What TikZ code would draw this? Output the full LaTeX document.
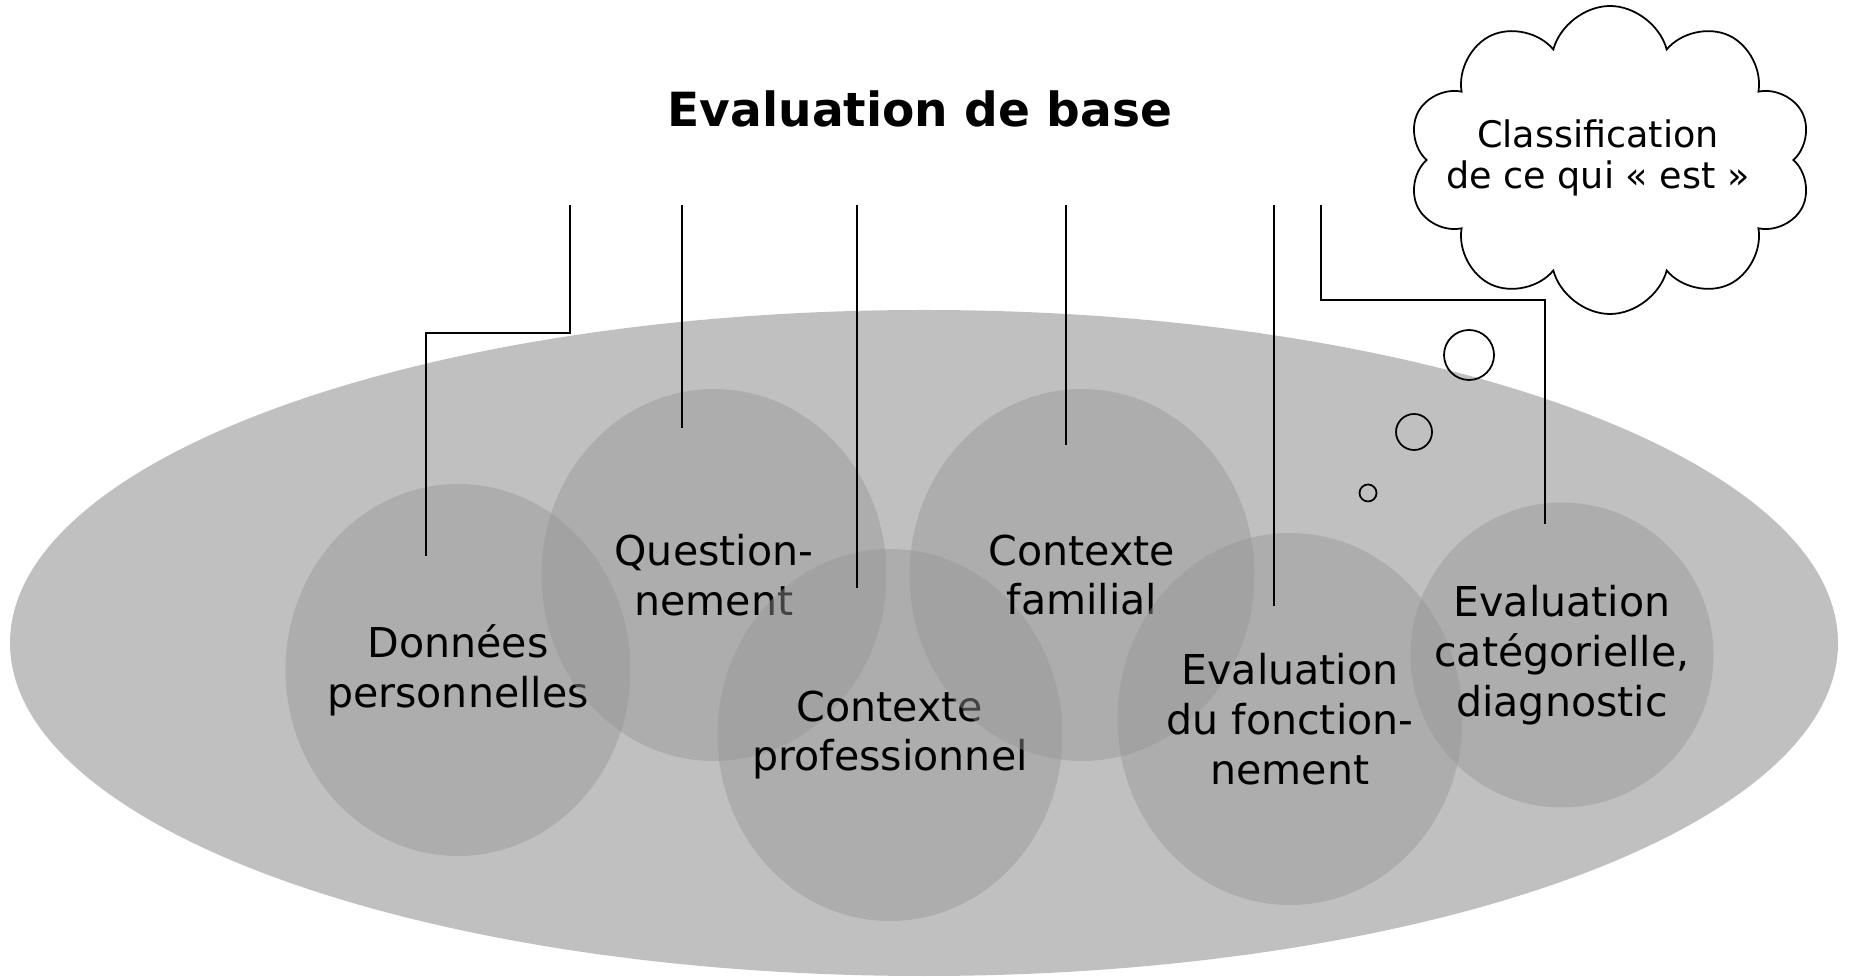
\documentclass[tikz,border=0pt]{standalone}
\usepackage{fontspec}
\setmainfont{DejaVu Sans}
\usetikzlibrary{shapes.geometric,shapes.symbols}
\definecolor{ovalgray}{RGB}{192,192,192}
\definecolor{blobgray}{RGB}{150,150,150}

\begin{document}
\begin{tikzpicture}[
    blob/.style={ellipse,fill=blobgray,fill opacity=0.45,inner sep=0pt,minimum width=3.45cm,minimum height=3.72cm},
    blobtext/.style={align=center,font=\fontsize{11.7}{14.2}\selectfont},
    bubble/.style={draw,circle,line width=0.5pt,inner sep=0pt},
    leader/.style={line width=0.5pt}]
    \useasboundingbox (0,0) rectangle (18.51,9.76);
    \fill[ovalgray] (9.24,3.33) ellipse [x radius=9.14cm,y radius=3.33cm];

    \node[blob] (donnees) at (4.58,3.06) {};
    \node[blobtext] (donnees-t) at (donnees) {Données\\personnelles};
    \node[blob] (question) at (7.14,4.01) {};
    \node[blobtext] (question-t) at (question) {Question-\\nement};
    \node[blob] (ctxpro) at (8.90,2.41) {};
    \node[blobtext] (ctxpro-t) at (ctxpro) {Contexte\\professionnel};
    \node[blob] (ctxfam) at (10.82,4.01) {};
    \node[blobtext] (ctxfam-t) at (ctxfam) {Contexte\\familial};
    \node[blob] (evalfonc) at (12.90,2.57) {};
    \node[blobtext] (evalfonc-t) at (evalfonc) {Evaluation\\du fonction-\\nement};
    \node[blob,minimum width=3.03cm,minimum height=3.05cm] (evalcat) at (15.62,3.21) {};
    \node[blobtext] (evalcat-t) at (evalcat) {Evaluation\\catégorielle,\\diagnostic};

    \node[anchor=base,font=\fontsize{13.4}{16}\selectfont\bfseries] (titre) at (9.20,8.49) {Evaluation de base};

    \node[draw,cloud,cloud puffs=10,cloud ignores aspect,line width=0.5pt,minimum width=4.04cm,minimum height=3.08cm] (nuage) at (16.10,8.16) {};
    \node[align=center,font=\fontsize{10.4}{11.8}\selectfont] (nuage-t) at (15.98,8.18) {Classification\\de ce qui « est »};
    \node[bubble,minimum size=0.50cm] (bulle1) at (14.69,6.21) {};
    \node[bubble,minimum size=0.36cm] (bulle2) at (14.14,5.44) {};
    \node[bubble,minimum size=0.17cm] (bulle3) at (13.68,4.83) {};

    % leaders from the title row down into the circles
    \coordinate (t1) at (5.70,7.71);   \coordinate (e1) at (4.26,4.20);
    \coordinate (t2) at (6.82,7.71);   \coordinate (e2) at (6.82,5.48);
    \coordinate (t3) at (8.57,7.71);   \coordinate (e3) at (8.57,3.88);
    \coordinate (t4) at (10.66,7.71);  \coordinate (e4) at (10.66,5.31);
    \coordinate (t5) at (12.74,7.71);  \coordinate (e5) at (12.74,3.70);
    \coordinate (t6) at (13.21,7.71);  \coordinate (e6) at (15.45,4.52);
    \draw[leader] (t1) -- ++(0,-1.28) -| (e1);
    \draw[leader] (t2) -- (e2);
    \draw[leader] (t3) -- (e3);
    \draw[leader] (t4) -- (e4);
    \draw[leader] (t5) -- (e5);
    \draw[leader] (t6) -- ++(0,-0.95) -| (e6);
\end{tikzpicture}
\end{document}
